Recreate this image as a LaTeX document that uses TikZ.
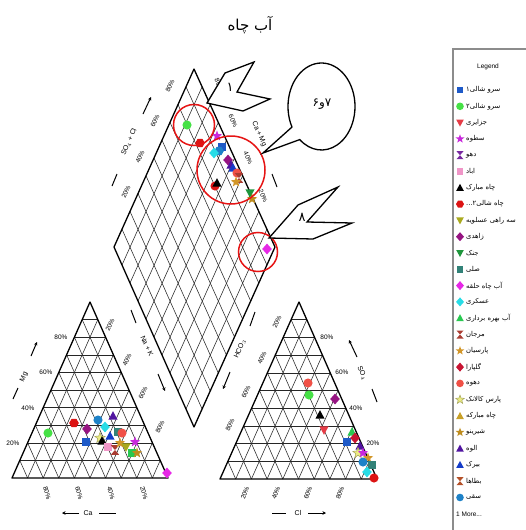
\documentclass[tikz,border=0pt]{standalone}
\usepackage{fontspec}
\setmainfont{Liberation Sans}
\newfontfamily\arabicfont[Script=Arabic]{DejaVu Sans}
\TeXXeTstate=1
\usetikzlibrary{calc,arrows.meta}
\definecolor{cBlueSq}{RGB}{30,90,200}
\definecolor{cGreen}{RGB}{70,225,70}
\definecolor{cRedDt}{RGB}{230,60,70}
\definecolor{cMagStar}{RGB}{200,40,220}
\definecolor{cPurpleHg}{RGB}{120,40,160}
\definecolor{cPink}{RGB}{240,150,200}
\definecolor{cRedHex}{RGB}{220,20,20}
\definecolor{cOlive}{RGB}{170,170,30}
\definecolor{cPurpleDm}{RGB}{150,20,130}
\definecolor{cGreenDt}{RGB}{30,150,60}
\definecolor{cTeal}{RGB}{50,130,120}
\definecolor{cMagDm}{RGB}{230,40,230}
\definecolor{cCyan}{RGB}{40,220,230}
\definecolor{cGreenTri}{RGB}{40,200,80}
\definecolor{cBrown}{RGB}{170,60,50}
\definecolor{cGold}{RGB}{210,150,40}
\definecolor{cCrimson}{RGB}{200,20,50}
\definecolor{cTomato}{RGB}{240,80,70}
\definecolor{cYellow}{RGB}{235,235,130}
\definecolor{cGoldTri}{RGB}{200,160,40}
\definecolor{cGold2}{RGB}{190,140,30}
\definecolor{cIndigo}{RGB}{80,20,160}
\definecolor{cBlueTri}{RGB}{20,60,200}
\definecolor{cBrown2}{RGB}{180,80,40}
\definecolor{cSteel}{RGB}{30,130,200}
\definecolor{cRing}{RGB}{230,20,20}
\tikzset{
  msq/.pic={\fill[#1] (-3.3,-3.3) rectangle (3.3,3.3);},
  mci/.pic={\fill[#1] (0,0) circle (3.8);},
  mhx/.pic={\fill[#1] (0:4) -- (60:4) -- (120:4) -- (180:4) -- (240:4) -- (300:4) -- cycle;},
  mdt/.pic={\fill[#1] (-3.8,-3) -- (3.8,-3) -- (0,4) -- cycle;},
  mut/.pic={\fill[#1] (-3.8,3) -- (3.8,3) -- (0,-4) -- cycle;},
  mdm/.pic={\fill[#1] (-4,0) -- (0,-4.5) -- (4,0) -- (0,4.5) -- cycle;},
  mst/.pic={\fill[#1] (-90:4.6) -- (-54:1.9) -- (-18:4.6) -- (18:1.9) -- (54:4.6) -- (90:1.9) -- (126:4.6) -- (162:1.9) -- (198:4.6) -- (234:1.9) -- cycle;},
  mso/.pic={\filldraw[fill=#1, draw=#1!70!black, line width=0.5] (-90:4.6) -- (-54:1.9) -- (-18:4.6) -- (18:1.9) -- (54:4.6) -- (90:1.9) -- (126:4.6) -- (162:1.9) -- (198:4.6) -- (234:1.9) -- cycle;},
  mhg/.pic={\fill[#1] (-3.5,-4) -- (3.5,-4) -- (-3.5,4) -- (3.5,4) -- cycle;},
  gridline/.style={line width=0.55pt, draw=black!85},
  outline/.style={line width=1.3pt, draw=black, line join=round},
  pct/.style={font=\fontsize{6.5}{7}\selectfont, inner sep=0pt},
  axlab/.style={font=\fontsize{7}{8}\selectfont, inner sep=0pt},
  axarrow/.style={line width=1pt, -{Stealth[length=3.5pt,width=3.5pt]}},
  axdash/.style={line width=1pt},
  redring/.style={draw=cRing, line width=1.5pt},
  callout/.style={draw=black, fill=white, line width=1.3pt, line join=miter},
  legtext/.style={anchor=west, inner sep=0pt, font=\arabicfont\fontsize{6.8}{7}\selectfont},
  bigmark/.style={scale=1.2},
}
\newcommand\trigrid[3]{%
  \foreach \t in {0.1,0.2,0.3,0.4,0.5,0.6,0.7,0.8,0.9}{%
    \draw[gridline] ($(#1)!\t!(#3)$) -- ($(#2)!\t!(#3)$);
    \draw[gridline] ($(#1)!\t!(#2)$) -- ($(#1)!\t!(#3)$);
    \draw[gridline] ($(#2)!\t!(#1)$) -- ($(#2)!\t!(#3)$);
  }
  \draw[outline] (#1) -- (#2) -- (#3) -- cycle;
}
\newcommand\legrow[5]{%
  \pic at (460,#2) {#3=#4};
  \node[legtext] (#1) at (466,#2) {#5};
}
\begin{document}
\begin{tikzpicture}[x=1pt,y=-1pt]
\useasboundingbox (0,0) rectangle (525,530);
\fill[white] (0,0) rectangle (525,530);
% title
\node (title) at (250,25) {\arabicfont\fontsize{15}{18}\selectfont\beginR آب چاه\endR};
% coordinates
\coordinate (cA) at (12,478); \coordinate (cB) at (168,478); \coordinate (cC) at (90,302);
\coordinate (aA) at (220,479); \coordinate (aB) at (377,479); \coordinate (aC) at (299,302);
\coordinate (dT) at (194,69); \coordinate (dR) at (275,247); \coordinate (dB) at (194,427); \coordinate (dL) at (114,247);
% grids
\trigrid{cA}{cB}{cC}
\trigrid{aA}{aB}{aC}
\foreach \t in {0.1,0.2,0.3,0.4,0.5,0.6,0.7,0.8,0.9}{%
  \draw[gridline] ($(dL)!\t!(dT)$) -- ($(dB)!\t!(dR)$);
  \draw[gridline] ($(dL)!\t!(dB)$) -- ($(dT)!\t!(dR)$);
}
\draw[outline] (dT) -- (dR) -- (dB) -- (dL) -- cycle;
% ---- cation triangle labels
\node[pct] (cm20) at (13,443) {20\%};
\node[pct] (cm40) at (28,408) {40\%};
\node[pct] (cm60) at (46,372) {60\%};
\node[pct] (cm80) at (61,337) {80\%};
\node[pct,rotate=66] (cn20) at (110,325) {20\%};
\node[pct,rotate=66] (cn40) at (127,360) {40\%};
\node[pct,rotate=66] (cn60) at (143,393) {60\%};
\node[pct,rotate=66] (cn80) at (160,427) {80\%};
\node[pct,rotate=-75] (cc80) at (47,493) {80\%};
\node[pct,rotate=-75] (cc60) at (79,493) {60\%};
\node[pct,rotate=-75] (cc40) at (111,493) {40\%};
\node[pct,rotate=-75] (cc20) at (144,493) {20\%};
\node[axlab] (caL) at (88,513) {Ca};
\coordinate (caA1) at (79,513); \coordinate (caA2) at (62,513);
\draw[axarrow] (caA1) -- (caA2);
\coordinate (caD1) at (99,513); \coordinate (caD2) at (116,513);
\draw[axdash] (caD1) -- (caD2);
\node[axlab,rotate=66] (mgL) at (24,377) {Mg};
\coordinate (mgA1) at (31,356); \coordinate (mgA2) at (37,342);
\draw[axarrow] (mgA1) -- (mgA2);
\coordinate (mgD1) at (13,399); \coordinate (mgD2) at (18,388);
\draw[axdash] (mgD1) -- (mgD2);
% ---- anion triangle labels
\node[pct,rotate=66] (ah20) at (277,322) {20\%};
\node[pct,rotate=66] (ah40) at (262,358) {40\%};
\node[pct,rotate=66] (ah60) at (246,392) {60\%};
\node[pct,rotate=66] (ah80) at (230,425) {80\%};
\node[pct] (as80) at (327,337) {80\%};
\node[pct] (as60) at (342,372) {60\%};
\node[pct] (as40) at (356,408) {40\%};
\node[pct] (as20) at (373,443) {20\%};
\node[pct,rotate=70] (acl20) at (245,493) {20\%};
\node[pct,rotate=70] (acl40) at (276,493) {40\%};
\node[pct,rotate=70] (acl60) at (308,493) {60\%};
\node[pct,rotate=70] (acl80) at (340,493) {80\%};
\node[axlab] (clL) at (298,513) {Cl};
\coordinate (clD1) at (272,513); \coordinate (clD2) at (286,513);
\draw[axdash] (clD1) -- (clD2);
\coordinate (clA1) at (308,513); \coordinate (clA2) at (326,513);
\draw[axarrow] (clA1) -- (clA2);
\node[axlab,rotate=-66] (so4L) at (362,373) {SO$_4$};
\coordinate (soA1) at (357,357); \coordinate (soA2) at (349,340);
\draw[axarrow] (soA1) -- (soA2);
\coordinate (soD1) at (372,389); \coordinate (soD2) at (377,402);
\draw[axdash] (soD1) -- (soD2);
% ---- diamond labels
\node[pct,rotate=66] (dl80) at (170,86) {80\%};
\node[pct,rotate=66] (dl60) at (155,121) {60\%};
\node[pct,rotate=66] (dl40) at (140,157) {40\%};
\node[pct,rotate=66] (dl20) at (126,192) {20\%};
\node[pct,rotate=-66] (dr80) at (219,85) {80\%};
\node[pct,rotate=-66] (dr60) at (233,121) {60\%};
\node[pct,rotate=-66] (dr40) at (248,158) {40\%};
\node[pct,rotate=-66] (dr20) at (263,196) {20\%};
\node[axlab,rotate=66] (socl) at (129,142) {SO$_4$ + Cl};
\coordinate (sclA1) at (143,114); \coordinate (sclA2) at (151,97);
\draw[axarrow] (sclA1) -- (sclA2);
\coordinate (sclD1) at (112,186); \coordinate (sclD2) at (117,174);
\draw[axdash] (sclD1) -- (sclD2);
\node[axlab,rotate=-66] (camg) at (259,134) {Ca + Mg};
\coordinate (cmD1) at (272,174); \coordinate (cmD2) at (277,187);
\draw[axdash] (cmD1) -- (cmD2);
\node[axlab,rotate=-66] (nak) at (147,346) {Na + K};
\coordinate (nkD1) at (131,310); \coordinate (nkD2) at (136,323);
\draw[axdash] (nkD1) -- (nkD2);
\coordinate (nkA1) at (158,374); \coordinate (nkA2) at (165,391);
\draw[axarrow] (nkA1) -- (nkA2);
\node[axlab,rotate=66] (hco) at (240,349) {HCO$_3$};
\coordinate (hcD1) at (255,312); \coordinate (hcD2) at (250,326);
\draw[axdash] (hcD1) -- (hcD2);
\coordinate (hcA1) at (230,372); \coordinate (hcA2) at (223,389);
\draw[axarrow] (hcA1) -- (hcA2);
% ---- data points (slightly larger than in the legend)
\begin{scope}[every pic/.style={bigmark}]
% diamond
\pic at (187,125) {mci=cGreen};
\pic at (200,143) {mhx=cRedHex};
\pic at (217,136) {mst=cMagStar};
\pic at (222,147) {msq=cBlueSq};
\pic at (219,151) {mhx=cSteel};
\pic at (214,153) {mdm=cCyan};
\pic at (228,160) {mdm=cPurpleDm};
\pic at (231,165) {mut=cIndigo};
\pic at (233,168) {mut=cBlueTri};
\pic at (237,173) {mci=cTomato};
\pic at (239,178) {mhg=cBrown};
\pic at (236,182) {mst=cGold};
\pic at (215,186) {mci=cRedHex};
\pic at (217,183) {mut=black};
\pic at (250,193) {mdt=cGreenDt};
\pic at (252,199) {mst=cGold2};
\pic at (267,249) {mdm=cMagDm};
% cation triangle
\pic at (48,433) {mci=cGreen};
\pic at (74,423) {mhx=cRedHex};
\pic at (87,429) {mdm=cPurpleDm};
\pic at (86,442) {msq=cBlueSq};
\pic at (98,420) {mci=cSteel};
\pic at (105,427) {mdm=cCyan};
\pic at (113,416) {mut=cIndigo};
\pic at (100,438) {mso=cYellow};
\pic at (102,441) {mut=black};
\pic at (110,436) {mut=cBlueTri};
\pic at (118,432) {msq=cTeal};
\pic at (122,433) {mci=cTomato};
\pic at (108,447) {msq=cPink};
\pic at (115,450) {mhg=cBrown};
\pic at (120,443) {mst=cGold};
\pic at (126,447) {mdt=cOlive};
\pic at (135,442) {mst=cMagStar};
\pic at (132,453) {msq=cGreenTri};
\pic at (137,453) {mst=cGold2};
\pic at (167,473) {mdm=cMagDm};
% anion triangle
\pic at (308,383) {mci=cTomato};
\pic at (309,395) {mci=cGreen};
\pic at (335,399) {mdm=cPurpleDm};
\pic at (320,415) {mut=black};
\pic at (324,430) {mdt=cRedDt};
\pic at (352,432) {mut=cGreenTri};
\pic at (347,442) {msq=cBlueSq};
\pic at (355,438) {mdm=cCrimson};
\pic at (360,446) {mut=cIndigo};
\pic at (358,453) {mso=cYellow};
\pic at (363,453) {mst=cMagStar};
\pic at (368,458) {mst=cGold};
\pic at (363,462) {mci=cSteel};
\pic at (372,465) {msq=cTeal};
\pic at (367,472) {mdm=cCyan};
\pic at (374,478) {mci=cRedHex};
\end{scope}
% ---- red rings
\draw[redring] (194,125) circle (20.5);
\draw[redring] (231,170) circle (34);
\draw[redring] (258,252) circle (19.5);
% ---- callouts
\draw[callout] (207,103) -- (225,73) -- (254,62) -- (237,92) -- (270,99) -- (243,111) -- cycle;
\node (c1) at (230,87) {\arabicfont\fontsize{13}{14}\selectfont ۱};
\draw[callout] (263,153) -- ([shift={(321.5,106.5)}]151.8:33.5 and 43.5) arc[start angle=151.8, end angle=490.5, x radius=33.5, y radius=43.5] -- cycle;
\node (c67) at (322,104) {\arabicfont\fontsize{12}{14}\selectfont\beginR ۷و۶\endR};
\draw[callout] (269,238) -- (298,205) -- (338,187) -- (307,222) -- (352,223) -- (313,239) -- cycle;
\node (c8) at (302,217) {\arabicfont\fontsize{13}{14}\selectfont ۸};
% ---- legend
\draw[draw=black!45, line width=2pt] (453,531) -- (453,49) -- (526,49);
\node[font=\fontsize{6.5}{7}\selectfont] (legtitle) at (488,67) {Legend};
\legrow{l1}{90}{msq}{cBlueSq}{\beginR سرو شالی۱\endR}
\legrow{l2}{106.3}{mci}{cGreen}{\beginR سرو شالی۲\endR}
\legrow{l3}{122.6}{mdt}{cRedDt}{\beginR جزایری\endR}
\legrow{l4}{138.9}{mst}{cMagStar}{\beginR سطوه\endR}
\legrow{l5}{155.2}{mhg}{cPurpleHg}{\beginR دهو\endR}
\legrow{l6}{171.5}{msq}{cPink}{\beginR اباد\endR}
\legrow{l7}{187.8}{mut}{black}{\beginR چاه مبارک\endR}
\legrow{l8}{204.1}{mhx}{cRedHex}{\beginR چاه شالی۲...\endR}
\legrow{l9}{220.4}{mdt}{cOlive}{\beginR سه راهی عسلویه\endR}
\legrow{l10}{236.7}{mdm}{cPurpleDm}{\beginR زاهدی\endR}
\legrow{l11}{253}{mdt}{cGreenDt}{\beginR جنک\endR}
\legrow{l12}{269.3}{msq}{cTeal}{\beginR صلی\endR}
\legrow{l13}{285.6}{mdm}{cMagDm}{\beginR آب چاه حلقه\endR}
\legrow{l14}{301.9}{mdm}{cCyan}{\beginR عسکری\endR}
\legrow{l15}{318.2}{mut}{cGreenTri}{\beginR آب بهره برداری\endR}
\legrow{l16}{334.5}{mhg}{cBrown}{\beginR مرجان\endR}
\legrow{l17}{350.8}{mst}{cGold}{\beginR پارسیان\endR}
\legrow{l18}{367.1}{mdm}{cCrimson}{\beginR گلپارا\endR}
\legrow{l19}{383.4}{mci}{cTomato}{\beginR دهوه\endR}
\legrow{l20}{399.7}{mso}{cYellow}{\beginR پارس کالانک\endR}
\legrow{l21}{416}{mut}{cGoldTri}{\beginR چاه مبارکه\endR}
\legrow{l22}{432.3}{mst}{cGold2}{\beginR شیرینو\endR}
\legrow{l23}{448.6}{mut}{cIndigo}{\beginR الوه\endR}
\legrow{l24}{464.9}{mut}{cBlueTri}{\beginR بیرک\endR}
\legrow{l25}{481.2}{mhg}{cBrown2}{\beginR بطاها\endR}
\legrow{l26}{497.5}{mci}{cSteel}{\beginR سقی\endR}
\node[anchor=west, inner sep=0pt, font=\fontsize{6.5}{7}\selectfont] (lmore) at (456,513.8) {1 More...};
\end{tikzpicture}
\end{document}
